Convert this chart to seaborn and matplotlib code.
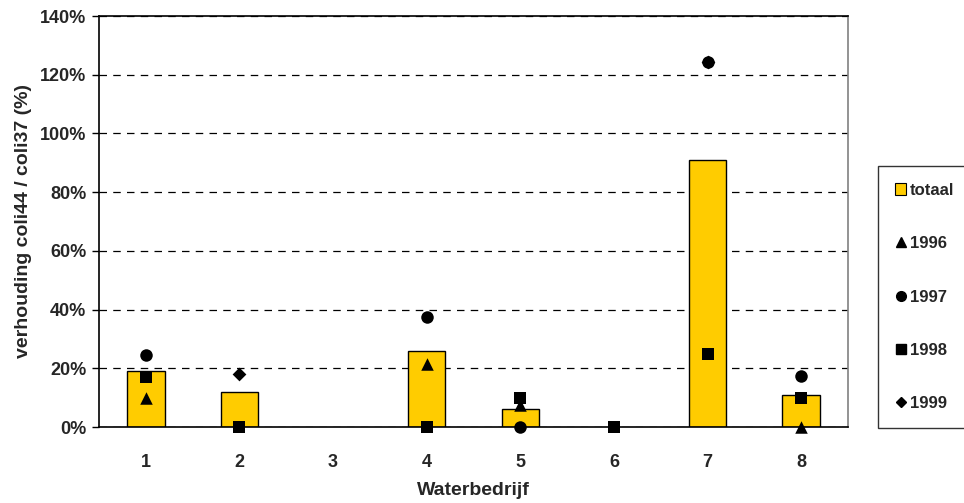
import numpy as np
import pandas as pd
import matplotlib
matplotlib.use("Agg")
import matplotlib.pyplot as plt
from matplotlib.ticker import PercentFormatter, MultipleLocator
from matplotlib.patches import Patch
from matplotlib.lines import Line2D
import seaborn as sns

# Ratio coli44 / coli37 (%) per water company
bedrijven = ["1", "2", "3", "4", "5", "6", "7", "8"]
totaal = [19, 12, np.nan, 26, 6, np.nan, 91, 11]
j1996 = [10, np.nan, np.nan, 21.5, 7.5, np.nan, np.nan, 0]
j1997 = [24.5, np.nan, np.nan, 37.5, 0, np.nan, 124.5, 17.5]
j1998 = [17, 0, np.nan, 0, 10, 0, 25, 10]
j1999 = [np.nan, 18, np.nan, np.nan, np.nan, np.nan, 124.5, np.nan]

sns.set_style("white")
plt.rcParams["font.family"] = ["Liberation Sans", "DejaVu Sans"]
plt.rcParams["font.weight"] = "bold"

df = pd.DataFrame({"bedrijf": bedrijven, "totaal": totaal, "1996": j1996,
                   "1997": j1997, "1998": j1998, "1999": j1999})

fig = plt.figure(figsize=(9.64, 5.03), dpi=100)
ax = fig.add_axes([99 / 964, 1 - 427 / 503, (848 - 99) / 964, (427 - 16) / 503])

bar_color = "#FFCC00"
sns.barplot(data=df, x="bedrijf", y="totaal", order=bedrijven, color=bar_color,
            edgecolor="black", linewidth=1.0, width=0.4, saturation=1, ax=ax,
            zorder=2)

series = [("1996", "^", 9), ("1997", "o", 9), ("1998", "s", 9), ("1999", "D", 7)]
for name, mk, sz in series:
    sns.stripplot(data=df, x="bedrijf", y=name, order=bedrijven, jitter=False,
                  marker=mk, size=sz, color="black", linewidth=0, ax=ax,
                  zorder=4, clip_on=False)

ax.set_xlim(-0.5, len(bedrijven) - 0.5)
ax.set_ylim(0, 140)
ax.yaxis.set_major_locator(MultipleLocator(20))
ax.yaxis.set_major_formatter(PercentFormatter(100, decimals=0))
ax.grid(axis="y", color="black", linestyle=(0, (6, 5)), linewidth=0.9, zorder=0)
ax.set_axisbelow(True)

for s in ["left", "bottom", "top"]:
    ax.spines[s].set_color("black")
    ax.spines[s].set_linewidth(1.2)
ax.spines["right"].set_color("#808080")
ax.spines["right"].set_linewidth(1.2)

ax.tick_params(axis="y", which="major", left=True, length=5, width=1,
               color="black", labelsize=13, pad=4)
ax.tick_params(axis="x", bottom=False, labelsize=13, pad=16)
for lbl in ax.get_xticklabels() + ax.get_yticklabels():
    lbl.set_fontweight("bold")

ax.set_xlabel("Waterbedrijf", fontsize=14, fontweight="bold", labelpad=8)
ax.set_ylabel("verhouding coli44 / coli37 (%)", fontsize=14, fontweight="bold",
              labelpad=6)

handles = [
    Patch(facecolor=bar_color, edgecolor="black", linewidth=0.8),
    Line2D([], [], marker="^", color="black", linestyle="none", markersize=7),
    Line2D([], [], marker="o", color="black", linestyle="none", markersize=7),
    Line2D([], [], marker="s", color="black", linestyle="none", markersize=7),
    Line2D([], [], marker="D", color="black", linestyle="none", markersize=5.5),
]
labels = ["totaal", "1996", "1997", "1998", "1999"]
leg = fig.legend(handles, labels, loc="center left",
                 bbox_to_anchor=(878 / 964, 1 - 297 / 503),
                 frameon=True, fancybox=False, edgecolor="black",
                 prop={"size": 12, "weight": "bold"},
                 labelspacing=2.3, handlelength=0.7, handleheight=0.7,
                 handletextpad=0.2, borderpad=1.0, borderaxespad=0)
leg.get_frame().set_linewidth(1.0)

fig.savefig("out.png", dpi=100)
